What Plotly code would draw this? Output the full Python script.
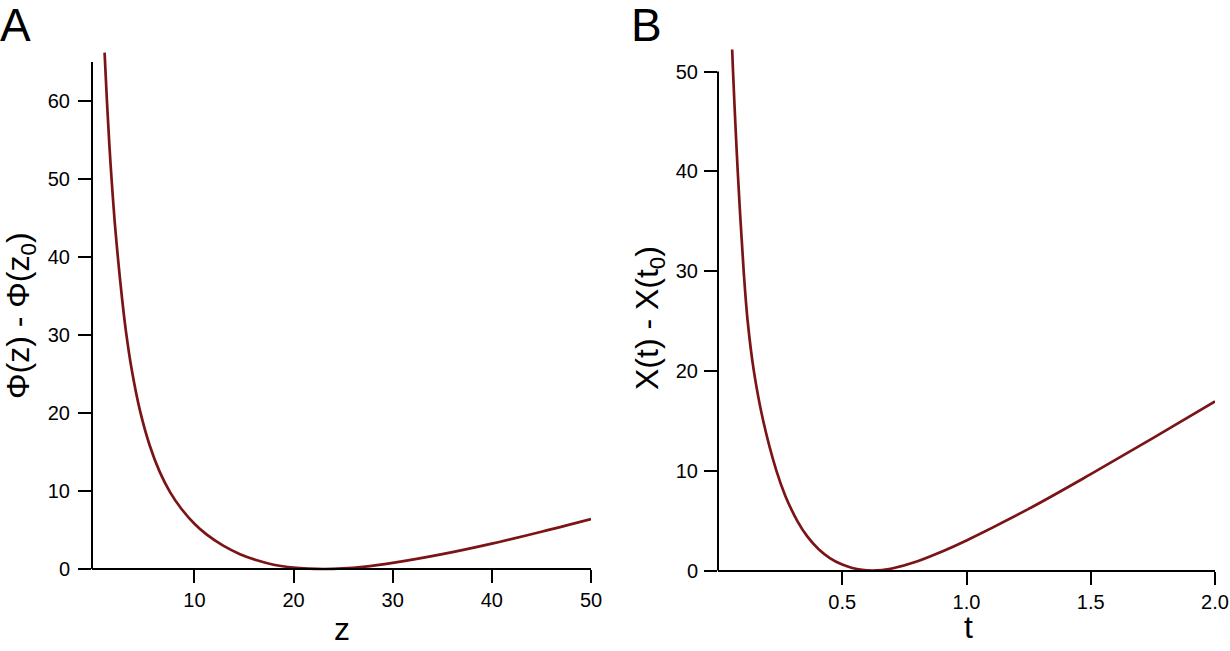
import plotly.graph_objects as go

# Panel A: Phi(z) - Phi(z0) vs z
z_vals = [0.94, 1.18, 1.42, 1.66, 1.98, 2.3, 2.7, 3.1, 3.67, 4.51, 5.5, 6.5, 7.54, 8.7,
          10.0, 11.25, 12.9, 14.6, 16.3, 18.0, 20.0, 21.5, 23.0, 25.0, 27.0, 30.0, 35.0,
          40.0, 45.0, 50.0]
phi_vals = [66.2, 59.9, 54.4, 49.7, 44.2, 39.7, 34.7, 30.4, 25.6, 20.3, 15.8, 12.45, 9.86, 7.69,
            5.8, 4.4, 2.99, 1.9, 1.12, 0.55, 0.18, 0.05, 0.0, 0.07, 0.27, 0.78, 1.9,
            3.25, 4.78, 6.4]

# Panel B: X(t) - X(t0) vs t
t_vals = [0.057, 0.0605, 0.0694, 0.0794, 0.0907, 0.1033, 0.1193, 0.1442, 0.1819, 0.2349,
          0.2706, 0.32, 0.36, 0.405, 0.45, 0.5, 0.54, 0.58, 0.62, 0.66, 0.7, 0.8, 0.9, 1.0,
          1.25, 1.5, 1.75, 2.0]
x_vals = [52.2, 50.0, 45.0, 40.0, 35.0, 30.0, 25.0, 20.0, 15.0, 10.0,
          7.5, 4.93, 3.39, 2.13, 1.25, 0.59, 0.25, 0.06, 0.0, 0.05, 0.2, 0.9, 1.885, 3.01,
          6.17, 9.65, 13.26, 16.95]

z_ticks = [10, 20, 30, 40, 50]
phi_ticks = [0, 10, 20, 30, 40, 50, 60]
t_ticks = [0.5, 1.0, 1.5, 2.0]
t_ticktext = ["0.5", "1.0", "1.5", "2.0"]
x_ticks = [0, 10, 20, 30, 40, 50]

W, H = 1230, 651
CURVE = "#7b1416"
FONT = "Liberation Sans, Arial, sans-serif"


def px(x):
    return x / W


def py(y):
    return (H - y) / H


fig = go.Figure()
fig.add_trace(go.Scatter(x=z_vals, y=phi_vals, xaxis="x", yaxis="y", mode="lines",
                         line=dict(color=CURVE, width=2.7, shape="spline", smoothing=1.0),
                         showlegend=False, hoverinfo="skip"))
fig.add_trace(go.Scatter(x=t_vals, y=x_vals, xaxis="x2", yaxis="y2", mode="lines",
                         line=dict(color=CURVE, width=2.7, shape="spline", smoothing=1.0),
                         showlegend=False, hoverinfo="skip"))

axis_common = dict(showgrid=False, zeroline=False, ticks="outside", ticklen=13, tickwidth=2,
                   tickcolor="black", tickfont=dict(family=FONT, size=20, color="black"),
                   automargin=False, fixedrange=True)

# panel geometry in pixels: where y=0 sits and pixels per y unit
a_zero, a_ppu = 569.0, 7.8
a_rng = [-0.4, 66.4]
b_zero, b_ppu = 570.5, 9.98
b_rng = [-0.4, 52.5]

fig.update_layout(
    width=W, height=H,
    margin=dict(l=0, r=0, t=0, b=0, autoexpand=False),
    paper_bgcolor="white", plot_bgcolor="white",
    xaxis=dict(domain=[px(92), px(591)], range=[-0.33, 50], anchor="free", position=py(a_zero),
               tickvals=z_ticks, showline=True, linecolor="black", linewidth=2,
               ticklabelstandoff=0, **axis_common),
    yaxis=dict(domain=[py(a_zero - a_rng[0] * a_ppu), py(a_zero - a_rng[1] * a_ppu)],
               range=a_rng, anchor="x", tickvals=phi_ticks, showline=False,
               ticklabelstandoff=4, **axis_common),
    xaxis2=dict(domain=[px(718), px(1215)], range=[0, 2], anchor="free", position=py(b_zero),
                tickvals=t_ticks, ticktext=t_ticktext, showline=True, linecolor="black",
                linewidth=2, ticklabelstandoff=0, **axis_common),
    yaxis2=dict(domain=[py(b_zero - b_rng[0] * b_ppu), py(b_zero - b_rng[1] * b_ppu)],
                range=b_rng, anchor="x2", tickvals=x_ticks, showline=False,
                ticklabelstandoff=2, **axis_common),
)

# y axis lines only as tall as the tick range
fig.add_shape(type="line", xref="x domain", yref="y", x0=0, x1=0, y0=0, y1=65,
              line=dict(color="black", width=2))
fig.add_shape(type="line", xref="x2 domain", yref="y2", x0=0, x1=0, y0=0, y1=50,
              line=dict(color="black", width=2))

title_font = dict(family=FONT, size=32, color="black")
fig.add_annotation(text="z", x=px(342), y=py(629), xref="paper", yref="paper",
                   showarrow=False, font=title_font, xanchor="center", yanchor="middle")
fig.add_annotation(text="t", x=px(968), y=py(627), xref="paper", yref="paper",
                   showarrow=False, font=title_font, xanchor="center", yanchor="middle")
fig.add_annotation(text="Φ(z) - Φ(z<sub>0</sub>)", x=px(20), y=py(316), xref="paper",
                   yref="paper", showarrow=False, font=title_font, textangle=-90,
                   xanchor="center", yanchor="middle")
fig.add_annotation(text="X(t) - X(t<sub>0</sub>)", x=px(649), y=py(318), xref="paper",
                   yref="paper", showarrow=False, font=title_font, textangle=-90,
                   xanchor="center", yanchor="middle")

letter_font = dict(family=FONT, size=46, color="black")
fig.add_annotation(text="A", x=px(-2), y=py(25), xref="paper", yref="paper",
                   showarrow=False, font=letter_font, xanchor="left", yanchor="middle")
fig.add_annotation(text="B", x=px(629), y=py(25), xref="paper", yref="paper",
                   showarrow=False, font=letter_font, xanchor="left", yanchor="middle")

# the page body has a default 8px margin; drop it so the figure sits at the corner
fig.write_html("out.html", config={"displayModeBar": False},
               post_script="document.body.style.margin='0px';")
